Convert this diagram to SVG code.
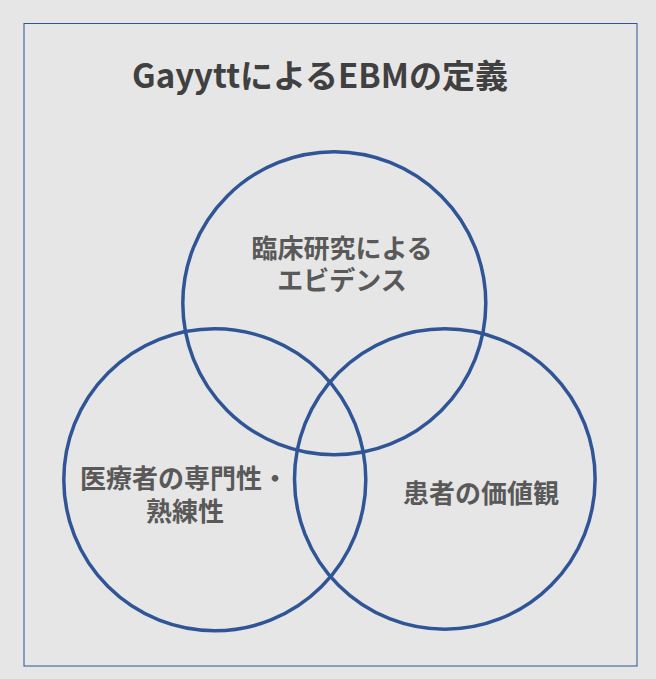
<svg xmlns="http://www.w3.org/2000/svg" width="656" height="679" viewBox="0 0 656 679">
<style>
.c{fill:none;stroke:#2F5597;stroke-width:3.5}
.t{font-family:"Noto Sans CJK JP","Noto Sans",sans-serif;font-weight:bold;fill:#595959;font-size:26px;text-anchor:middle}
.title{font-family:"Noto Sans CJK JP","Noto Sans",sans-serif;font-weight:bold;fill:#404040;font-size:33px;text-anchor:middle}
</style>
<rect x="0" y="0" width="656" height="679" fill="#E7E6E6"/>
<rect x="24" y="23.5" width="613" height="642.5" fill="none" stroke="#2F5597" stroke-width="1"/>
<text class="title" x="320" y="88">GayyttによるEBMの定義</text>
<g id="evidence">
<circle class="c" cx="334.3" cy="303.3" r="151.5"/>
<text class="t"><tspan x="342" y="258">臨床研究による</tspan><tspan x="342" y="290">エビデンス</tspan></text>
</g>
<g id="expertise">
<circle class="c" cx="214.8" cy="479.8" r="151"/>
<text class="t"><tspan x="184" y="488">医療者の専門性・</tspan><tspan x="185" y="521">熟練性</tspan></text>
</g>
<g id="values">
<circle class="c" cx="444.8" cy="479" r="150.3"/>
<text class="t" x="481" y="503">患者の価値観</text>
</g>
<g id="connectors"></g>
</svg>
